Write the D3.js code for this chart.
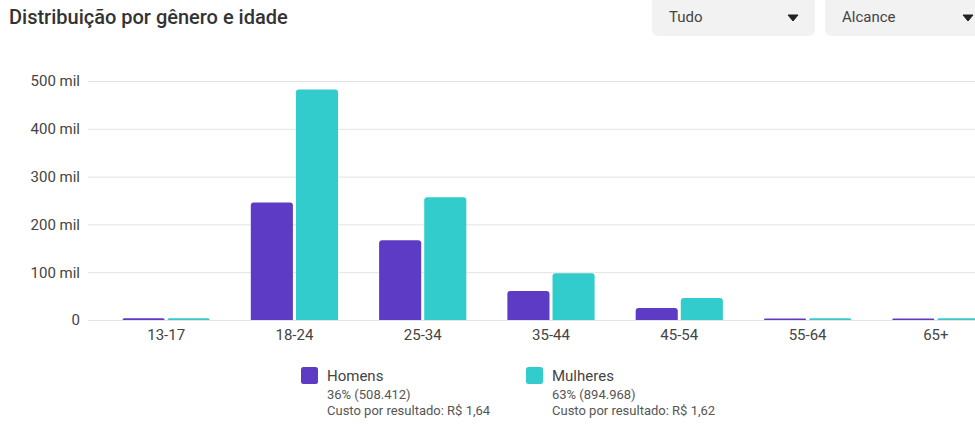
<!DOCTYPE html>
<html><head><meta charset="utf-8">
<script src="https://cdn.jsdelivr.net/npm/d3@7"></script>
<style>
html,body{margin:0;padding:0;background:#fff;overflow:hidden}
svg{display:block;font-family:Roboto,"Noto Sans",sans-serif}
</style></head>
<body><svg id="c" width="975" height="425"></svg>
<script>
const categories = ["13-17","18-24","25-34","35-44","45-54","55-64","65+"];
const seriesNames = ["Homens","Mulheres"];
const homens   = [3500, 246000, 167000, 60500, 25000, 3000, 3000];
const mulheres = [3500, 482000, 257000, 98000, 46000, 3500, 3500];
const yTicks = [0, 100000, 200000, 300000, 400000, 500000];
const yTickLabels = ["0","100 mil","200 mil","300 mil","400 mil","500 mil"];
const legendPct = ["36% (508.412)","63% (894.968)"];
const legendCost = ["Custo por resultado: R$ 1,64","Custo por resultado: R$ 1,62"];
const colors = ["#5e3bc4","#33cccc"];

const svg = d3.select("#c");
const y = d3.scaleLinear().domain([0,500000]).range([320,81]);
const x0 = d3.scaleBand().domain(categories).range([102,1000]).paddingInner(0.32).paddingOuter(0.16);
const x1 = d3.scaleBand().domain(seriesNames).range([0,x0.bandwidth()]).paddingInner(0.067);

// title
svg.append("text").attr("x",9).attr("y",24).attr("font-size",20).attr("font-weight",500)
  .attr("fill","#333").text("Distribuição por gênero e idade");

// dropdowns
const dd = [{x:652,w:163,t:"Tudo"},{x:825,w:170,t:"Alcance"}];
dd.forEach(d=>{
  svg.append("rect").attr("x",d.x).attr("y",-6).attr("width",d.w).attr("height",42).attr("rx",6).attr("fill","#f2f2f2");
  svg.append("text").attr("x",d.x+17).attr("y",22).attr("font-size",15).attr("fill","#444").text(d.t);
  const cx = d.x + (d.t==="Tudo"?141:143);
  svg.append("path").attr("d",`M${cx-5},15 L${cx+5},15 L${cx},21 Z`).attr("fill","#222")
    .attr("stroke","#222").attr("stroke-width",1).attr("stroke-linejoin","round");
});

// gridlines
svg.append("g").selectAll("line").data(yTicks).join("line")
  .attr("x1",88).attr("x2",975).attr("y1",d=>y(d)+0.5).attr("y2",d=>y(d)+0.5)
  .attr("stroke","#e3e3e3").attr("stroke-width",1);

// y axis labels
const yAxis = d3.axisLeft(y).tickValues(yTicks).tickFormat((d,i)=>yTickLabels[i]).tickSize(0).tickPadding(0);
const ya = svg.append("g").attr("transform","translate(80,0)").call(yAxis);
ya.select(".domain").remove();
ya.selectAll("text").attr("font-size",15).attr("fill","#444").attr("font-family","Roboto,sans-serif");

// x axis labels
const xAxis = d3.axisBottom(x0).tickSize(0).tickPadding(0);
const xa = svg.append("g").attr("transform","translate(0,329)").call(xAxis);
xa.select(".domain").remove();
xa.selectAll("text").attr("font-size",15).attr("fill","#444").attr("font-family","Roboto,sans-serif");

// bars
const data = categories.map((c,i)=>({c, vals:[homens[i],mulheres[i]]}));
function topRounded(x,yy,w,h,r){
  r=Math.min(r,h,w/2);
  return `M${x},${yy+h} L${x},${yy+r} Q${x},${yy} ${x+r},${yy} L${x+w-r},${yy} Q${x+w},${yy} ${x+w},${yy+r} L${x+w},${yy+h} Z`;
}
svg.append("g").selectAll("g").data(data).join("g")
  .attr("transform",d=>`translate(${x0(d.c)},0)`)
  .selectAll("path").data(d=>d.vals.map((v,i)=>({v,s:seriesNames[i],i}))).join("path")
  .attr("d",d=>topRounded(x1(d.s), y(d.v), x1.bandwidth(), 320-y(d.v), 3))
  .attr("fill",d=>colors[d.i]);

// legend
const lx = [301,526];
seriesNames.forEach((s,i)=>{
  svg.append("rect").attr("x",lx[i]).attr("y",367).attr("width",17).attr("height",17).attr("rx",2.5).attr("fill",colors[i]);
  svg.append("text").attr("x",lx[i]+26).attr("y",381).attr("font-size",15).attr("fill","#444").text(s);
  svg.append("text").attr("x",lx[i]+26).attr("y",399).attr("font-size",13).attr("fill","#555").text(legendPct[i]);
  svg.append("text").attr("x",lx[i]+26).attr("y",415).attr("font-size",13).attr("fill","#555").text(legendCost[i]);
});
</script></body></html>
